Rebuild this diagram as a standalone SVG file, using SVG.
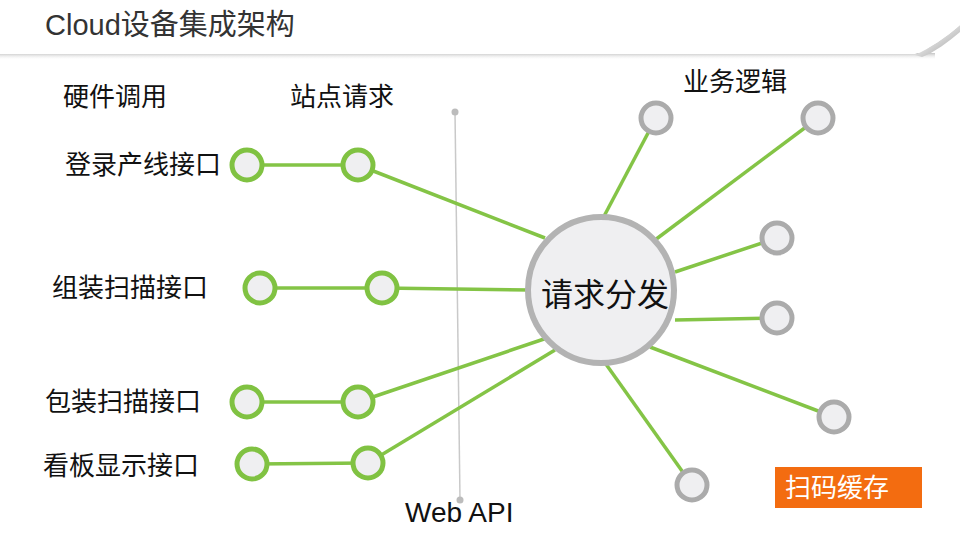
<svg xmlns="http://www.w3.org/2000/svg" width="960" height="540" viewBox="0 0 960 540">
<defs>
<linearGradient id="shadow" x1="0" y1="0" x2="0" y2="1">
<stop offset="0" stop-color="#bdbdbd" stop-opacity="0.9"/>
<stop offset="1" stop-color="#ffffff" stop-opacity="0"/>
</linearGradient>
<linearGradient id="curl" x1="0" y1="0" x2="1" y2="1">
<stop offset="0" stop-color="#ffffff"/>
<stop offset="0.5" stop-color="#d6d6d6"/>
<stop offset="1" stop-color="#9a9a9a"/>
</linearGradient>
</defs>
<style>
text{font-family:"Noto Sans CJK SC","Liberation Sans",sans-serif;fill:#111;}
.lbl{font-size:26px;}
.cn{stroke:#84c446;stroke-width:3.5;fill:none;}
.gn{fill:#efeff1;stroke:#80c242;stroke-width:5;}
.gy{fill:#efeff1;stroke:#ababab;stroke-width:5;}
</style>
<rect width="960" height="540" fill="#ffffff"/>
<g id="title-bar">
<rect x="0" y="53" width="935" height="7" fill="url(#shadow)"/>
<path d="M915,55 C930,48 945,38 960,25 L960,32 C948,42 935,52 922,57 Z" fill="url(#curl)"/>
<path d="M0,0 H960 V25 C945,38 930,48 915,54 H0 Z" fill="#ffffff"/>
<text x="45" y="35" style="font-size:29px;fill:#333;font-family:'Liberation Sans','Noto Sans CJK SC',sans-serif">Cloud<tspan style="font-family:'Noto Sans CJK SC',sans-serif">设备集成架构</tspan></text>
</g>
<g id="headers">
<text class="lbl" x="63" y="106">硬件调用</text>
<text class="lbl" x="290" y="106">站点请求</text>
<text class="lbl" x="683" y="91">业务逻辑</text>
</g>
<g id="webapi-axis">
<line x1="455" y1="112" x2="460" y2="500" stroke="#c9c9c9" stroke-width="1.5"/>
<circle cx="455" cy="112" r="3.5" fill="#bcbcbc"/>
<circle cx="460" cy="500" r="3.5" fill="#bcbcbc"/>
<text x="405" y="522" style="font-family:'Liberation Sans',sans-serif;font-size:28px">Web API</text>
</g>
<g id="connectors">
<line class="cn" x1="247" y1="165" x2="358" y2="165"/>
<line class="cn" x1="260" y1="288" x2="382" y2="288"/>
<line class="cn" x1="247" y1="402" x2="358" y2="402"/>
<line class="cn" x1="252" y1="464" x2="368" y2="463"/>
<line class="cn" x1="358" y1="165" x2="545" y2="238"/>
<line class="cn" x1="382" y1="288" x2="530" y2="290"/>
<line class="cn" x1="358" y1="402" x2="547" y2="338"/>
<line class="cn" x1="368" y1="463" x2="555" y2="350"/>
<line class="cn" x1="602" y1="220" x2="656" y2="118"/>
<line class="cn" x1="655" y1="240" x2="818" y2="118"/>
<line class="cn" x1="675" y1="272" x2="777" y2="238"/>
<line class="cn" x1="675" y1="320" x2="777" y2="318"/>
<line class="cn" x1="650" y1="347" x2="834" y2="417"/>
<line class="cn" x1="603" y1="360" x2="692" y2="485"/>
</g>
<g id="node-login-1"><circle class="gn" cx="247" cy="165" r="15"/></g>
<g id="node-login-2"><circle class="gn" cx="358" cy="165" r="15"/></g>
<g id="node-assemble-1"><circle class="gn" cx="260" cy="288" r="15"/></g>
<g id="node-assemble-2"><circle class="gn" cx="382" cy="288" r="15"/></g>
<g id="node-pack-1"><circle class="gn" cx="247" cy="402" r="15"/></g>
<g id="node-pack-2"><circle class="gn" cx="358" cy="402" r="15"/></g>
<g id="node-board-1"><circle class="gn" cx="252" cy="464" r="15"/></g>
<g id="node-board-2"><circle class="gn" cx="368" cy="463" r="15"/></g>
<g id="labels-left">
<text class="lbl" x="65" y="174">登录产线接口</text>
<text class="lbl" x="52" y="297">组装扫描接口</text>
<text class="lbl" x="45" y="411">包装扫描接口</text>
<text class="lbl" x="43" y="475">看板显示接口</text>
</g>
<g id="node-dispatch">
<circle cx="601" cy="290" r="73" fill="#efeff1" stroke="#b3b3b3" stroke-width="6"/>
<text x="605" y="306" text-anchor="middle" style="font-size:32px">请求分发</text>
</g>
<g id="node-biz-1"><circle class="gy" cx="656" cy="118" r="15"/></g>
<g id="node-biz-2"><circle class="gy" cx="818" cy="118" r="15"/></g>
<g id="node-biz-3"><circle class="gy" cx="777" cy="238" r="15"/></g>
<g id="node-biz-4"><circle class="gy" cx="777" cy="318" r="15"/></g>
<g id="node-biz-5"><circle class="gy" cx="834" cy="417" r="15"/></g>
<g id="node-biz-6"><circle class="gy" cx="692" cy="485" r="15"/></g>
<g id="node-cache">
<rect x="775" y="467" width="147" height="41" fill="#f36c10"/>
<text x="785" y="497" style="font-size:26px;fill:#ffffff">扫码缓存</text>
</g>
</svg>
